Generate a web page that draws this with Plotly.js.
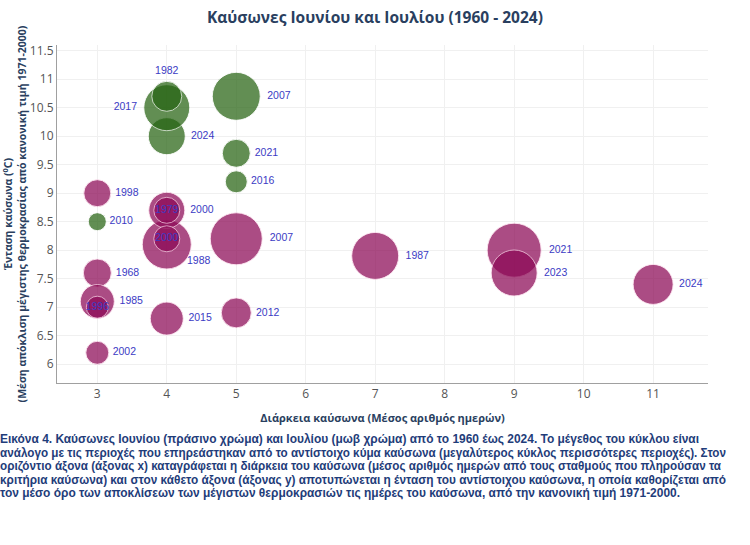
<!DOCTYPE html>
<html>
<head>
<meta charset="utf-8">
<script src="https://cdn.plot.ly/plotly-3.0.1.min.js"></script>
<style>
  html, body { margin: 0; padding: 0; background: #fff; overflow: hidden; }
  #chart { width: 750px; height: 430px; }
  #caption { width: 750px; height: 115px; overflow: hidden; padding-top: 2px; }
  #caption span {
    display: block; width: max-content; white-space: nowrap;
    font-family: "Liberation Sans", Arial, sans-serif;
    font-weight: bold; font-size: 13.5px; line-height: 13.5px; height: 13.5px;
    color: #1f3d7a; transform-origin: 0 0;
  }
</style>
</head>
<body>
<div id="chart"></div>
<div id="caption"></div>
<script>
// June heatwaves (green)
const juneYears    = ["2010", "2016", "2021", "2007", "2024", "2017", "1982"];
const juneDuration = [3, 5, 5, 5, 4, 4, 4];
const juneIntensity= [8.5, 9.2, 9.7, 10.7, 10.0, 10.5, 10.7];
const juneAreas    = [18, 22, 28, 48, 37, 46, 30];
const junePos      = ["middle right","middle right","middle right","middle right","middle right","middle left","top center"];

// July heatwaves (purple)
const julyYears    = ["2002","1968","1985","2015","2012","1998","1988","2007","2000","1987","2021","2023","2024","1996","2000","1979"];
const julyDuration = [3, 3, 3, 4, 5, 3, 4, 5, 4, 7, 9, 9, 11, 3, 4, 4];
const julyIntensity= [6.2, 7.6, 7.1, 6.8, 6.9, 9.0, 8.1, 8.2, 8.7, 7.9, 8.0, 7.6, 7.4, 7.0, 8.2, 8.7];
const julyAreas    = [23, 28, 34, 33, 30, 27, 49, 52, 36, 47, 54, 46, 40, 22, 26, 26];
const julyPos      = ["middle right","middle right","middle right","middle right","middle right","middle right","none","middle right","middle right","middle right","middle right","middle right","middle right","middle center","middle center","middle center"];

const xTicks = [3,4,5,6,7,8,9,10,11];
const yTicks = [6,6.5,7,7.5,8,8.5,9,9.5,10,10.5,11,11.5];

// caption lines and the widths they occupy in the reference
const captionLines = [
  "Εικόνα 4. Καύσωνες Ιουνίου (πράσινο χρώμα) και Ιουλίου (μωβ χρώμα) από το 1960 έως 2024. Το μέγεθος του κύκλου είναι",
  "ανάλογο με τις περιοχές που επηρεάστηκαν από το αντίστοιχο κύμα καύσωνα (μεγαλύτερος κύκλος περισσότερες περιοχές). Στον",
  "οριζόντιο άξονα (άξονας x) καταγράφεται η διάρκεια του καύσωνα (μέσος αριθμός ημερών από τους σταθμούς που πληρούσαν τα",
  "κριτήρια καύσωνα) και στον κάθετο άξονα (άξονας y) αποτυπώνεται η ένταση του αντίστοιχου καύσωνα, η οποία καθορίζεται από",
  "τον μέσο όρο των αποκλίσεων των μέγιστων θερμοκρασιών τις ημέρες του καύσωνα, από την κανονική τιμή 1971-2000."
];
const captionWidths = [699, 726, 721, 726, 680];

const cap = document.getElementById("caption");
captionLines.forEach((t, i) => {
  const s = document.createElement("span");
  s.textContent = t;
  cap.appendChild(s);
  const w = s.getBoundingClientRect().width;
  s.style.transform = "scaleX(" + (captionWidths[i] / w) + ")";
});

const labelFont = {family: "Liberation Sans, Arial, sans-serif", size: 10.5, color: "#3b3bc4"};

const offsetIdx = julyPos.map((p, i) => p === "none" ? i : -1).filter(i => i >= 0);

const june = {
  type: "scatter", mode: "markers+text", name: "Ιούνιος",
  x: juneDuration, y: juneIntensity, text: juneYears, textposition: junePos,
  textfont: labelFont, hoverinfo: "x+y+text",
  marker: {size: juneAreas, sizemode: "diameter", color: "rgb(38,100,18)", opacity: 0.72,
           line: {color: "rgba(255,255,255,0.9)", width: 1}}
};
const july = {
  type: "scatter", mode: "markers+text", name: "Ιούλιος",
  x: julyDuration, y: julyIntensity,
  text: julyYears.map((t, i) => julyPos[i] === "none" ? "" : t),
  textposition: julyPos.map(p => p === "none" ? "middle right" : p),
  textfont: labelFont, hoverinfo: "x+y+text",
  marker: {size: julyAreas, sizemode: "diameter", color: "rgb(140,8,85)", opacity: 0.72,
           line: {color: "rgba(255,225,240,0.9)", width: 1}}
};

const annotations = offsetIdx.map(i => ({
  x: julyDuration[i], y: julyIntensity[i], xref: "x", yref: "y",
  text: julyYears[i], showarrow: false, xanchor: "left", yanchor: "middle",
  xshift: 18, yshift: -16, font: labelFont
}));

const layout = {
  width: 750, height: 430,
  margin: {l: 57, r: 42, t: 45, b: 47},
  paper_bgcolor: "#fff", plot_bgcolor: "#fff",
  showlegend: false,
  annotations: annotations,
  font: {family: "Open Sans, Liberation Sans, sans-serif"},
  title: {text: "<b>Καύσωνες Ιουνίου και Ιουλίου (1960 - 2024)</b>", x: 0.5, xanchor: "center", y: 0.972,
          font: {family: "Open Sans, Liberation Sans, sans-serif", size: 15.5, color: "#2a3f5f"}},
  xaxis: {
    range: [2.42, 11.79], tickvals: xTicks, ticktext: xTicks.map(String),
    showgrid: true, gridcolor: "#f0f0f0", zeroline: false,
    showline: true, linecolor: "#a0a0a0", linewidth: 1,
    ticks: "", tickfont: {size: 12, color: "#555"},
    title: {text: "<b>Διάρκεια καύσωνα (Μέσος αριθμός ημερών)</b>", standoff: 12,
            font: {size: 11, color: "#2a3f5f"}}
  },
  yaxis: {
    range: [5.67, 11.6], tickvals: yTicks, ticktext: yTicks.map(String),
    showgrid: true, gridcolor: "#f0f0f0", zeroline: false,
    showline: true, linecolor: "#a0a0a0", linewidth: 1,
    ticks: "", tickfont: {size: 12, color: "#555"},
    title: {text: "<b>Ένταση καύσωνα (<sup>0</sup>C)<br>(Μέση απόκλιση μέγιστης θερμοκρασίας από κανονική τιμή 1971-2000)</b>",
            standoff: 2, font: {size: 10.5, color: "#2a3f5f"}}
  }
};

Plotly.newPlot("chart", [june, july], layout, {displayModeBar: false, staticPlot: true});
</script>
</body>
</html>
